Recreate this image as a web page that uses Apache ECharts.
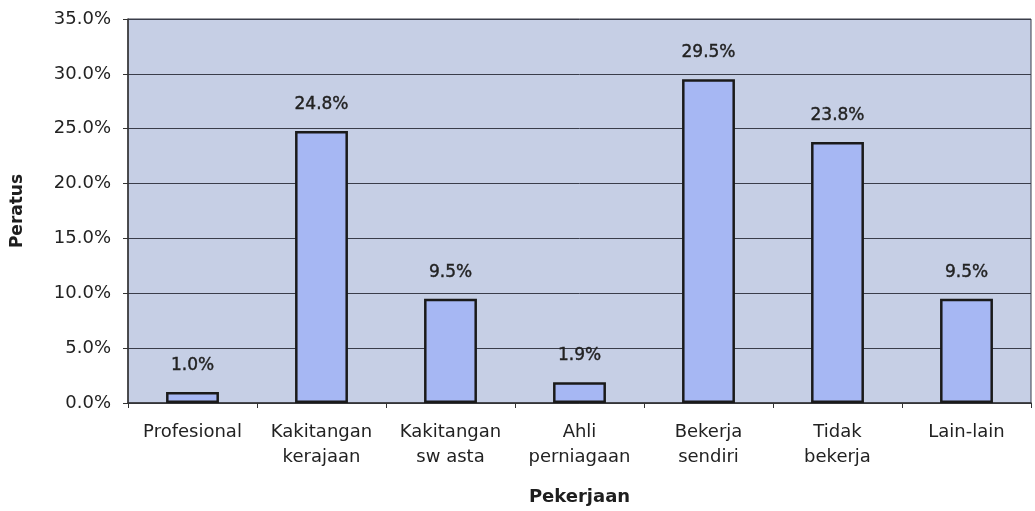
<!DOCTYPE html>
<html>
<head>
<meta charset="utf-8">
<script src="https://cdn.jsdelivr.net/npm/echarts@6/dist/echarts.min.js"></script>
<style>
  html, body { margin: 0; padding: 0; background: #fff; }
  #chart { width: 1035px; height: 511px; }
</style>
</head>
<body>
<div id="chart"></div>
<script>
const categories = ['Profesional', 'Kakitangan\nkerajaan', 'Kakitangan\nsw asta', 'Ahli\nperniagaan', 'Bekerja\nsendiri', 'Tidak\nbekerja', 'Lain-lain'];
const percentages = [1.0, 24.8, 9.5, 1.9, 29.5, 23.8, 9.5];
const yTicks = [0, 5, 10, 15, 20, 25, 30, 35];

const chart = echarts.init(document.getElementById('chart'));
const font = 'DejaVu Sans, Verdana, sans-serif';

chart.setOption({
    animation: false,
    grid: {
        left: 128, right: 4, top: 19, bottom: 108,
        outerBoundsMode: 'none',
        containLabel: false,
        show: true,
        backgroundColor: '#c6cfe5',
        borderColor: '#3a3d4a',
        borderWidth: 1,
    },
    xAxis: {
        type: 'category',
        data: categories,
        name: 'Pekerjaan',
        nameLocation: 'middle',
        nameGap: 85,
        nameTextStyle: { fontFamily: font, fontSize: 18, fontWeight: 'bold', color: '#1e1e1e' },
        axisLine: { lineStyle: { color: '#333', width: 1.5 } },
        axisTick: { show: true, length: 5, lineStyle: { color: '#333' } },
        axisLabel: {
            fontFamily: font, fontSize: 18, color: '#222',
            lineHeight: 25, margin: 17, interval: 0,
        },
    },
    yAxis: {
        type: 'value',
        min: yTicks[0],
        max: yTicks[yTicks.length - 1],
        interval: 5,
        name: 'Peratus',
        nameLocation: 'middle',
        nameGap: 102,
        nameTextStyle: { fontFamily: font, fontSize: 17, fontWeight: 'bold', color: '#1e1e1e' },
        axisLine: { show: true, lineStyle: { color: '#333', width: 1.5 } },
        axisTick: { show: true, length: 5, lineStyle: { color: '#333' } },
        axisLabel: {
            fontFamily: font, fontSize: 18, color: '#222', margin: 17,
            formatter: v => v.toFixed(1) + '%',
        },
        splitLine: { lineStyle: { color: '#3a3d4a', width: 1 } },
    },
    series: [{
        type: 'bar',
        data: percentages,
        barWidth: '41%',
        itemStyle: { color: '#a6b7f3', borderColor: '#1a1a1a', borderWidth: 2.5 },
        label: {
            show: true,
            position: 'top',
            distance: 18,
            fontFamily: font, fontSize: 17, color: '#222',
            textBorderColor: '#222', textBorderWidth: 0.4,
            formatter: p => p.value.toFixed(1) + '%',
        },
    }],
});
</script>
</body>
</html>
